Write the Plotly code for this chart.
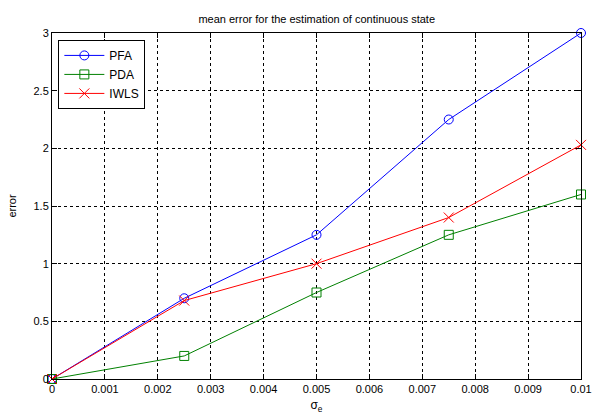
import plotly.graph_objects as go

x_vals = [0, 0.0025, 0.005, 0.0075, 0.01]
pfa = [0, 0.70, 1.25, 2.25, 3.0]
pda = [0, 0.20, 0.75, 1.25, 1.60]
iwls = [0, 0.68, 1.00, 1.40, 2.03]

x_ticks = [0, 0.001, 0.002, 0.003, 0.004, 0.005, 0.006, 0.007, 0.008, 0.009, 0.01]
x_tick_text = ["0", "0.001", "0.002", "0.003", "0.004", "0.005", "0.006", "0.007", "0.008", "0.009", "0.01"]
y_ticks = [0, 0.5, 1, 1.5, 2, 2.5, 3]
y_tick_text = ["0", "0.5", "1", "1.5", "2", "2.5", "3"]

fig = go.Figure()
fig.add_trace(go.Scatter(x=x_vals, y=pfa, name="PFA", mode="lines+markers",
                         line=dict(color="#0000ff", width=1),
                         marker=dict(symbol="circle-open", size=9, color="#0000ff", line=dict(width=1)),
                         cliponaxis=False))
fig.add_trace(go.Scatter(x=x_vals, y=pda, name="PDA", mode="lines+markers",
                         line=dict(color="#008000", width=1),
                         marker=dict(symbol="square-open", size=9, color="#008000", line=dict(width=1)),
                         cliponaxis=False))
fig.add_trace(go.Scatter(x=x_vals, y=iwls, name="IWLS", mode="lines+markers",
                         line=dict(color="#ff0000", width=1),
                         marker=dict(symbol="x-thin-open", size=10, color="#ff0000", line=dict(width=1, color="#ff0000")),
                         cliponaxis=False))

axis_common = dict(showline=True, linecolor="black", linewidth=1, mirror="allticks",
                   ticks="inside", ticklen=5, tickcolor="black",
                   showgrid=True, gridcolor="black", gridwidth=1, griddash="3px,3px",
                   zeroline=False, automargin=False,
                   tickfont=dict(family="Arial", size=11, color="black"))

fig.update_xaxes(range=[0, 0.01], tickvals=x_ticks, ticktext=x_tick_text,
                 title=dict(text="σ<sub>e</sub>", font=dict(family="Arial", size=12, color="black"), standoff=6),
                 **axis_common)
fig.update_yaxes(range=[0, 3], tickvals=y_ticks, ticktext=y_tick_text,
                 title=dict(text="error", font=dict(family="Arial", size=11, color="black"), standoff=14),
                 **axis_common)

fig.update_layout(
    width=592, height=417,
    margin=dict(l=52, r=11, t=33, b=38),
    paper_bgcolor="white", plot_bgcolor="white",
    title=dict(text="mean error for the estimation of continuous state", x=0.535, xanchor="center",
               y=0.955, yanchor="middle", font=dict(family="Arial", size=11, color="black")),
    legend=dict(x=0.012, y=0.98, xanchor="left", yanchor="top", bgcolor="white",
                bordercolor="black", borderwidth=1, font=dict(family="Arial", size=12, color="black"),
                itemwidth=40, tracegroupgap=0),
    showlegend=True,
)

fig.write_html("out.html")
